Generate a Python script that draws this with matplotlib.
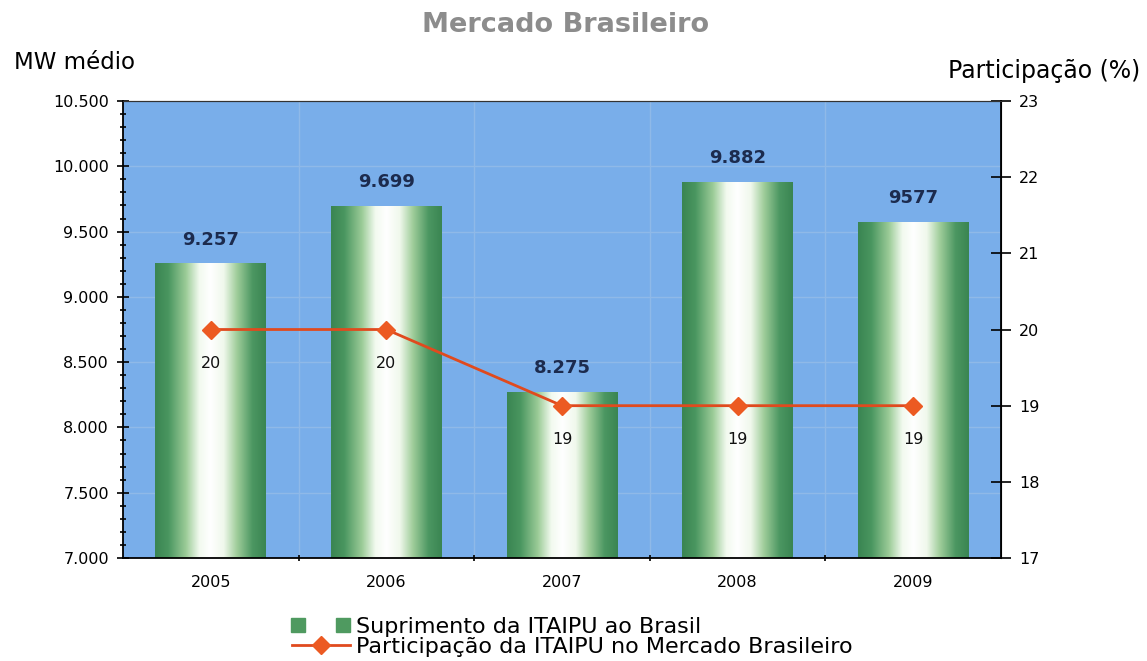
import matplotlib
matplotlib.use('Agg')
import matplotlib.pyplot as plt
import numpy as np
from matplotlib.colors import LinearSegmentedColormap
from matplotlib.lines import Line2D
from matplotlib.legend_handler import HandlerLine2D
from matplotlib.ticker import MultipleLocator, FuncFormatter

# dados
anos = ['2005', '2006', '2007', '2008', '2009']
suprimento = [9257, 9699, 8275, 9882, 9577]
suprimento_txt = ['9.257', '9.699', '8.275', '9.882', '9577']
participacao = [20, 20, 19, 19, 19]

plt.rcParams['font.family'] = ['DejaVu Sans']

fig = plt.figure(figsize=(11.47, 6.61), dpi=100)
ax = fig.add_axes([0.1072, 0.1558, 0.7655, 0.6914])
ax.set_facecolor('#79aeea')

x = np.arange(len(anos))
largura = 0.63

# gradiente verde -> branco -> verde
cmap = LinearSegmentedColormap.from_list('barra', [
    (0.0, '#3a8552'), (0.12, '#4a9660'), (0.28, '#9ccc98'), (0.4, '#f2faef'),
    (0.5, '#ffffff'), (0.62, '#f0f8ec'), (0.74, '#9fcd9a'), (0.88, '#4c9762'), (1.0, '#3a8552')])
grad = np.linspace(0, 1, 256).reshape(1, -1)

bars = ax.bar(x, suprimento, width=largura, color='none', zorder=2)
for b in bars:
    x0 = b.get_x()
    im = ax.imshow(grad, cmap=cmap, aspect='auto', zorder=2,
                   extent=[x0, x0 + b.get_width(), 7000, b.get_height()])
    im.set_clip_path(b)

ax.set_xlim(-0.5, len(anos) - 0.5)
ax.set_ylim(7000, 10500)

for xi, v, t in zip(x, suprimento, suprimento_txt):
    ax.text(xi, v + 110, t, ha='center', va='bottom', fontsize=13,
            fontweight='bold', color='#1c2b4e', zorder=5)

# grade fraca
for xb in np.arange(0.5, len(anos) - 0.5, 1):
    ax.axvline(xb, color='#8fb9e8', lw=1, zorder=1)
for yv in np.arange(7500, 10500, 500):
    ax.axhline(yv, color='#8fb9e8', lw=1, zorder=1)

ax.yaxis.set_major_locator(MultipleLocator(500))
ax.yaxis.set_minor_locator(MultipleLocator(100))
ax.yaxis.set_major_formatter(FuncFormatter(lambda v, p: f'{int(v):,}'.replace(',', '.')))
ax.set_xticks(x)
ax.set_xticklabels(anos)
ax.set_xticks(np.arange(0.5, len(anos) - 0.5, 1), minor=True)
ax.tick_params(axis='x', which='major', length=0, pad=12, labelsize=11.5)
ax.tick_params(axis='x', which='minor', length=5, width=1.2, direction='inout')
ax.tick_params(axis='y', which='major', length=8, width=1.2, direction='inout', labelsize=11.5, pad=6)
ax.tick_params(axis='y', which='minor', length=5, width=1.2, direction='inout')
ax.spines['top'].set_color('#333333')
ax.spines['top'].set_linewidth(0.8)
ax.spines['left'].set_linewidth(1.3)
ax.spines['bottom'].set_linewidth(1.3)

ax2 = ax.twinx()
ax2.plot(x, participacao, color='#e04a1e', lw=2, marker='D', markersize=9,
         markerfacecolor='#ec5a22', markeredgecolor='#ec5a22', zorder=6)
ax2.set_ylim(17, 23)
ax2.yaxis.set_major_locator(MultipleLocator(1))
ax2.tick_params(axis='y', length=14, width=1.2, direction='inout', labelsize=11.5, pad=6)
ax2.spines['right'].set_linewidth(1.3)
ax2.spines['top'].set_color('#333333')
ax2.spines['top'].set_linewidth(0.8)
ax2.spines['left'].set_visible(False)
ax2.spines['bottom'].set_visible(False)
for xi, p in zip(x, participacao):
    ax2.text(xi, p - 0.45, str(p), ha='center', va='center', fontsize=11.5, color='#111111', zorder=7)

fig.text(0.493, 0.962, 'Mercado Brasileiro', ha='center', va='center', fontsize=19.5,
         color='#8c8c8c', fontweight='bold')
fig.text(0.012, 0.905, 'MW médio', ha='left', va='center', fontsize=16.5)
fig.text(0.994, 0.893, 'Participação (%)', ha='right', va='center', fontsize=17)

h_bar = Line2D([], [], marker='s', linestyle='none', color='#4f9a60', markersize=10)
h_lin = Line2D([], [], color='#e04a1e', lw=2, marker='D', markersize=9,
               markerfacecolor='#ec5a22', markeredgecolor='#ec5a22')
fig.legend([h_bar, h_lin],
           ['Suprimento da ITAIPU ao Brasil', 'Participação da ITAIPU no Mercado Brasileiro'],
           loc='center', bbox_to_anchor=(0.499, 0.037), frameon=False, fontsize=16,
           handlelength=2.6, handletextpad=0.3, labelspacing=0.0,
           handler_map={h_bar: HandlerLine2D(numpoints=2), h_lin: HandlerLine2D(numpoints=1)})

fig.savefig('out.png', dpi=100)
